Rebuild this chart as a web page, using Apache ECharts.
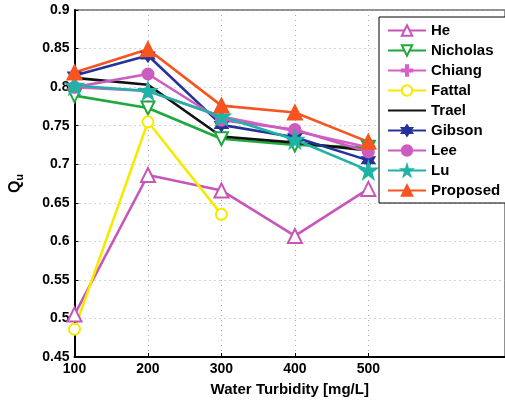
<html>
  <head>
    <meta charset="utf-8" />
    <script src="https://cdn.jsdelivr.net/npm/echarts@6.0.0/dist/echarts.min.js"></script>
    <style>
      body {
        margin: 0;
        background: #fff;
      }

      #main {
        width: 505px;
        height: 402px;
      }
    </style>
  </head>
  <body>
    <div id="main"></div>
    <script>
      // Water turbidity in mg/L
      const turbidity = [100, 200, 300, 400, 500];
      const xTicks = [100, 200, 300, 400, 500];

      const he = [0.505, 0.686, 0.666, 0.607, 0.668];
      const nicholas = [0.789, 0.773, 0.733, 0.725, 0.722];
      const chiang = [0.8, 0.795, 0.762, 0.743, 0.722];
      const fattal = [0.486, 0.755, 0.635];
      const trael = [0.812, 0.803, 0.736, 0.728, 0.718];
      const gibson = [0.815, 0.841, 0.751, 0.735, 0.705];
      const lee = [0.8, 0.817, 0.757, 0.745, 0.716];
      const lu = [0.802, 0.795, 0.762, 0.732, 0.692];
      const proposed = [0.819, 0.849, 0.776, 0.767, 0.729];

      const font = 'Liberation Sans';
      const star5 = 'path://M50,0 L61,35 L98,35 L68,57 L79,91 L50,70 L21,91 L32,57 L2,35 L39,35 Z';
      const star6 = 'path://M50,0 L64,25 L93,25 L79,50 L93,75 L64,75 L50,100 L36,75 L7,75 L21,50 L7,25 L36,25 Z';
      const plus = 'path://M4,0h2v4h4v2h-4v4h-2v-4h-4v-2h4z';

      function pairs(values) {
        return values.map((v, i) => [turbidity[i], v]);
      }

      function line(name, values, color, symbol, size, extra) {
        return Object.assign(
          {
            name: name,
            type: 'line',
            data: pairs(values),
            symbol: symbol,
            symbolSize: size,
            lineStyle: { color: color, width: 2.6 },
            itemStyle: { color: color, borderColor: color, borderWidth: 2 },
            emphasis: { disabled: true },
            animation: false
          },
          extra || {}
        );
      }

      const chart = echarts.init(document.getElementById('main'));

      chart.setOption({
        animation: false,
        grid: {
          left: 71,
          right: 0,
          top: 10,
          bottom: 42,
          show: true,
          borderColor: '#222',
          borderWidth: 1
        },
        legend: {
          orient: 'vertical',
          left: 379,
          top: 17,
          width: 124,
          padding: [5, 6, 4, 8],
          backgroundColor: '#fff',
          borderColor: '#000',
          borderWidth: 1,
          itemWidth: 38,
          itemHeight: 13,
          itemGap: 3,
          textStyle: {
            fontFamily: font,
            fontWeight: 'bold',
            fontSize: 15,
            lineHeight: 17,
            color: '#000'
          }
        },
        xAxis: {
          type: 'value',
          min: 100,
          max: 686,
          name: 'Water Turbidity [mg/L]',
          nameLocation: 'middle',
          nameGap: 25,
          nameTextStyle: {
            fontFamily: font,
            fontWeight: 'bold',
            fontSize: 15,
            color: '#000'
          },
          axisLine: { lineStyle: { color: '#000', width: 2 } },
          axisTick: { inside: true, length: 4, customValues: xTicks, lineStyle: { color: '#000' } },
          axisLabel: {
            customValues: xTicks,
            fontFamily: font,
            fontWeight: 'bold',
            fontSize: 14,
            color: '#000',
            margin: 5
          },
          splitLine: {
            show: true,
            lineStyle: { color: '#aaa', type: [1, 4], width: 1 }
          }
        },
        yAxis: {
          type: 'value',
          min: 0.45,
          max: 0.9,
          interval: 0.05,
          name: '{q|Q}{u|u}',
          nameLocation: 'middle',
          nameGap: 49,
          nameRotate: 90,
          nameTextStyle: {
            rich: {
              q: { fontFamily: font, fontWeight: 'bold', fontSize: 16, color: '#000' },
              u: { fontFamily: font, fontWeight: 'bold', fontSize: 11, color: '#000', padding: [8, 0, 0, 0] }
            }
          },
          axisLine: { show: true, lineStyle: { color: '#000', width: 2 } },
          axisTick: { show: true, inside: true, length: 4, lineStyle: { color: '#000' } },
          axisLabel: {
            fontFamily: font,
            fontWeight: 'bold',
            fontSize: 14,
            color: '#000',
            margin: 5,
            formatter: (v) => String(+v.toFixed(2))
          },
          splitLine: {
            show: true,
            lineStyle: { color: '#aaa', type: [1, 4], width: 1 }
          }
        },
        series: [
          line('He', he, '#c855b8', 'emptyTriangle', 14),
          line('Nicholas', nicholas, '#1fa83c', 'emptyTriangle', 13, { symbolRotate: 180 }),
          line('Chiang', chiang, '#d760c8', plus, 11),
          line('Fattal', fattal, '#f5ea00', 'emptyCircle', 11),
          line('Trael', trael, '#111', 'circle', 0, {
            showSymbol: false,
            itemStyle: { color: 'rgba(0,0,0,0)', borderWidth: 0 }
          }),
          line('Gibson', gibson, '#23339a', star6, 12),
          line('Lee', lee, '#cc5cbf', 'circle', 11),
          line('Lu', lu, '#1fb3a6', star5, 16),
          line('Proposed', proposed, '#f75420', 'triangle', 14)
        ]
      });
    </script>
  </body>
</html>
